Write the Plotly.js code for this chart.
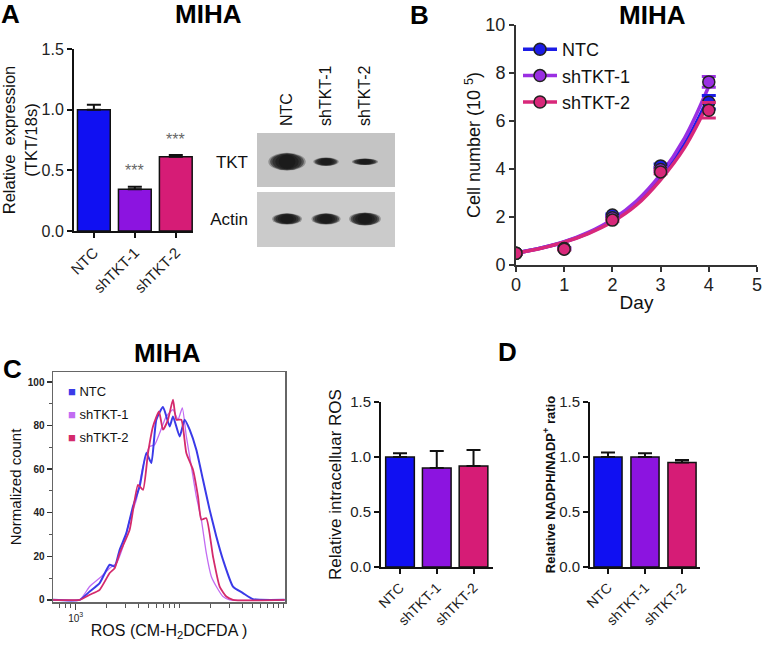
<!DOCTYPE html>
<html>
<head>
<meta charset="utf-8">
<script src="https://cdn.plot.ly/plotly-3.0.1.min.js"></script>
<style>html,body{margin:0;padding:0;background:#fff;}#chart{width:762px;height:645px;}</style>
</head>
<body>
<div id="chart"></div>
<script>
// ---------------- DATA ----------------
const categories = ['NTC', 'shTKT-1', 'shTKT-2'];

// Panel A: qPCR
const qpcrMean = [1.0, 0.345, 0.612];
const qpcrErr = [0.04, 0.02, 0.014];
const qpcrSig = ['', '***', '***'];

// Panel A: western blot (relative band size)
const blotRows = ['TKT', 'Actin'];
const tktBandWidth = [1.0, 0.68, 0.70];
const tktBandThickness = [1.0, 0.47, 0.36];
const actinBandWidth = [0.80, 0.78, 0.85];
const actinBandThickness = [0.70, 0.70, 0.82];

// Panel B: growth curve
const days = [0, 1, 2, 3, 4];
const growthNTC = [0.49, 0.69, 2.08, 4.13, 6.78];
const growthSh1 = [0.49, 0.68, 1.97, 3.98, 7.63];
const growthSh2 = [0.49, 0.66, 1.87, 3.88, 6.45];
const growthErrNTC = [0.02, 0.03, 0.05, 0.08, 0.28];
const growthErrSh1 = [0.02, 0.03, 0.05, 0.08, 0.22];
const growthErrSh2 = [0.02, 0.03, 0.05, 0.08, 0.32];
const fitDays = [0, 0.5, 1, 1.5, 2, 2.5, 3, 3.5, 4];
const fitNTC = [0.5, 0.70, 0.96, 1.33, 1.85, 2.60, 3.65, 5.05, 7.00];
const fitSh1 = [0.5, 0.70, 0.97, 1.36, 1.90, 2.67, 3.78, 5.30, 7.45];
const fitSh2 = [0.5, 0.69, 0.95, 1.31, 1.80, 2.50, 3.55, 4.90, 6.80];

// Panel C: flow histogram (ROS intensity vs normalized count)
const rosNTC_x = [605, 1093, 1363, 1701, 2123, 2371, 2649, 3070, 3559, 4125, 4781, 5341, 5964, 6915, 8014, 8628, 10000, 11170, 12478, 14462, 16762, 19430, 22519, 26102, 32570, 40640, 50710, 102240];
const rosNTC_y = [0, 0, 3.8, 7.7, 16.1, 15.3, 23, 30.6, 42.9, 52.1, 67.4, 62.8, 82.7, 88.5, 79.6, 84.2, 75, 82.7, 78.1, 68.9, 55.1, 41.3, 29.1, 18.4, 6.1, 3.1, 0.3, 0];
const rosSh1_x = [605, 1093, 1363, 1701, 2123, 2460, 2852, 3306, 3831, 4441, 5147, 5748, 6423, 7444, 8628, 9638, 10607, 11591, 12947, 14462, 16155, 18045, 20157, 22519, 26102, 30255, 102240];
const rosSh1_y = [0, 0, 6.1, 10, 14.5, 16.8, 24.5, 36.8, 45.9, 61.3, 70.4, 71.2, 76.6, 84.2, 87.3, 82.7, 88.1, 75, 61.3, 47.5, 36.8, 21.4, 10.7, 6.1, 1.5, 0, 0];
const rosSh2_x = [605, 1093, 1363, 1701, 2123, 2371, 2649, 3306, 3975, 4441, 4961, 5541, 6328, 6915, 7724, 8628, 9289, 10375, 11591, 13433, 15005, 16155, 18045, 20917, 24245, 28100, 32570, 102240];
const rosSh2_y = [0, 0, 2.3, 4.6, 12.3, 14.5, 21.4, 32.2, 52.8, 50.5, 67.4, 79.6, 86.5, 78.1, 82.7, 91.9, 82.7, 82.7, 67.4, 59.7, 47.5, 36.8, 37.5, 19.9, 6.1, 1.5, 0, 0];
const histTickVals = [1000];
const histTickText = ['10<sup>3</sup>'];
const histMinorVals = [700, 800, 900, 2000, 3000, 4000, 5000, 6000, 7000, 8000, 9000, 10000, 20000, 30000, 40000, 50000, 60000, 70000, 80000, 90000, 100000];

// Panel C: relative intracellular ROS
const rosMean = [1.0, 0.9, 0.918];
const rosErr = [0.035, 0.155, 0.146];

// Panel D: NADPH/NADP+ ratio
const nadpMean = [1.0, 1.0, 0.949];
const nadpErr = [0.04, 0.034, 0.024];

// ---------------- STYLE / LAYOUT ----------------
const W = 762, H = 645;
const px = v => v / W;
const py = v => 1 - v / H;
const FONT = 'Arial, "Liberation Sans", sans-serif';
const barColors = ['#1010f2', '#8c14e0', '#d61c76'];
const lineColors = ['#1c1ce6', '#9a2fe2', '#d8287a'];
const histColors = ['#3a3ae8', '#c26cf2', '#d42a6c'];

function gapped(arr) { const o = []; arr.forEach(v => o.push(v, null)); return o; }

const traces = [];

function barTrace(means, errs, xa, ya, width) {
  return {
    type: 'bar', x: [0, 1, 2], y: means, xaxis: xa, yaxis: ya, width: width,
    marker: { color: barColors, line: { color: '#111', width: 1.5 } },
    error_y: { type: 'data', array: errs, arrayminus: errs.map(() => 0), symmetric: false,
               color: '#111', thickness: 2, width: 7 },
    showlegend: false, hoverinfo: 'skip'
  };
}
traces.push(barTrace(qpcrMean, qpcrErr, 'x', 'y', 0.8));
traces.push(barTrace(rosMean, rosErr, 'x4', 'y4', 0.78));
traces.push(barTrace(nadpMean, nadpErr, 'x5', 'y5', 0.76));

// Panel B fit curves
[fitNTC, fitSh1, fitSh2].forEach((f, i) => {
  traces.push({ type: 'scatter', mode: 'lines', x: fitDays, y: f, xaxis: 'x2', yaxis: 'y2',
    line: { color: lineColors[i], width: 3.5, shape: 'spline' }, showlegend: false, hoverinfo: 'skip' });
});
// Panel B points
[[growthNTC, growthErrNTC], [growthSh1, growthErrSh1], [growthSh2, growthErrSh2]].forEach((g, i) => {
  traces.push({ type: 'scatter', mode: 'lines+markers', name: categories[i],
    x: gapped(days), y: gapped(g[0]), xaxis: 'x2', yaxis: 'y2', connectgaps: false,
    line: { color: lineColors[i], width: 3.5 },
    marker: { color: lineColors[i], size: 12, line: { color: '#222', width: 1.5 } },
    error_y: { type: 'data', array: gapped(g[1]), color: lineColors[i], thickness: 3, width: 7 },
    showlegend: true, hoverinfo: 'skip' });
});

// Panel C histogram
[[rosSh1_x, rosSh1_y, 1, 1.3], [rosNTC_x, rosNTC_y, 0, 2], [rosSh2_x, rosSh2_y, 2, 1.8]].forEach(h => {
  traces.push({ type: 'scatter', mode: 'lines', x: h[0], y: h[1], xaxis: 'x3', yaxis: 'y3',
    line: { color: histColors[h[2]], width: h[3], shape: 'spline', smoothing: 0.5 },
    showlegend: false, hoverinfo: 'skip' });
});

// Western blot: invisible anchor trace for axis 6
traces.push({ type: 'scatter', mode: 'markers', x: [0, 1, 2], y: [0.5, 0.5, 0.5], xaxis: 'x6', yaxis: 'y6',
  marker: { opacity: 0 }, showlegend: false, hoverinfo: 'skip' });

const shapes = [];
// blot membranes
shapes.push({ type: 'rect', xref: 'x6', yref: 'y6', x0: -0.77, x1: 2.77, y0: 0.526, y1: 1.0,
  fillcolor: '#c4c4c4', line: { width: 0 }, layer: 'below' });
shapes.push({ type: 'rect', xref: 'x6', yref: 'y6', x0: -0.77, x1: 2.77, y0: 0.0, y1: 0.482,
  fillcolor: '#cbcbcb', line: { width: 0 }, layer: 'below' });
function bands(widths, thick, yc, baseHalfH) {
  widths.forEach((w, i) => {
    const layers = [1.0, 0.9, 0.78, 0.62, 0.45];
    layers.forEach((s, k) => {
      const hw = 0.48 * w * s, hh = baseHalfH * thick[i] * (0.6 + 0.4 * s);
      shapes.push({ type: 'circle', xref: 'x6', yref: 'y6', x0: i - hw, x1: i + hw,
        y0: yc - hh, y1: yc + hh, fillcolor: '#141414', opacity: k === 0 ? 0.3 : 0.5,
        line: { width: 0 }, layer: 'above' });
    });
  });
}
bands(tktBandWidth, tktBandThickness, 0.748, 0.078);
bands(actinBandWidth, actinBandThickness, 0.246, 0.07);

// ---------------- AXES ----------------
function barX(domain, range, fs, anchor) {
  return { domain: domain, range: range, anchor: anchor, tickvals: [0, 1, 2], ticktext: categories, tickangle: -45,
    showline: true, linecolor: '#111', linewidth: 2, ticks: 'outside', ticklen: 5, tickwidth: 2, tickcolor: '#111',
    showgrid: false, zeroline: false, fixedrange: true, tickfont: { size: fs, color: '#222', family: FONT } };
}
function barY(domain, fs, title, tfs, bold, anchor, standoff) {
  return { domain: domain, range: [0, 1.5], anchor: anchor, tickvals: [0, 0.5, 1.0, 1.5], ticktext: ['0.0', '0.5', '1.0', '1.5'],
    showline: true, linecolor: '#111', linewidth: 2, ticks: 'outside', ticklen: 5, tickwidth: 2, tickcolor: '#111',
    showgrid: false, zeroline: false, fixedrange: true, tickfont: { size: fs, color: '#222', family: FONT },
    title: { text: title, font: { size: tfs, color: '#111', family: FONT, weight: bold ? 'bold' : 'normal' }, standoff: standoff } };
}

const layout = {
  width: W, height: H, margin: { l: 0, r: 0, t: 0, b: 0 }, paper_bgcolor: '#fff', plot_bgcolor: 'rgba(0,0,0,0)',
  font: { family: FONT, color: '#111' }, showlegend: true, bargap: 0.2,
  xaxis: barX([px(74), px(193)], [-0.485, 2.42], 15, 'y'),
  yaxis: barY([py(231), py(49)], 16, 'Relative  expression<br>(TKT/18s)', 16.5, false, 'x', 0),
  xaxis4: barX([px(381), px(493)], [-0.517, 2.53], 14, 'y4'),
  yaxis4: barY([py(567), py(402)], 15, 'Relative intracelluar ROS', 17, false, 'x4', 4),
  xaxis5: barX([px(590), px(700)], [-0.486, 2.486], 14, 'y5'),
  yaxis5: barY([py(567), py(402)], 15, 'Relative NADPH/NADP<sup>+</sup> ratio', 13, true, 'x5', 1),
  xaxis2: { domain: [px(516), px(757)], range: [0, 5], dtick: 1, tick0: 0, showline: true, linecolor: '#333', linewidth: 2,
    ticks: 'outside', ticklen: 5, tickwidth: 2, tickcolor: '#333', showgrid: false, zeroline: false, ticklabeloverflow: 'allow',
    ticklabelstandoff: -3,
    tickfont: { size: 18, color: '#222' }, title: { text: 'Day', font: { size: 19, color: '#111' }, standoff: 2 }, anchor: 'y2' },
  yaxis2: { domain: [py(265), py(25)], range: [0, 10], dtick: 2, tick0: 0, showline: true, linecolor: '#333', linewidth: 2,
    ticks: 'outside', ticklen: 5, tickwidth: 2, tickcolor: '#333', showgrid: false, zeroline: false, ticklabeloverflow: 'allow',
    tickfont: { size: 18, color: '#222' }, title: { text: 'Cell number (10 <sup>5</sup>)', font: { size: 18, color: '#111' }, standoff: 0 }, anchor: 'x2' },
  xaxis3: { type: 'log', domain: [px(53), px(285)], range: [2.782, 5.013], tickvals: histTickVals, ticktext: histTickText,
    showline: true, mirror: true, linecolor: '#666', linewidth: 1.5, ticks: 'outside', ticklen: 6, tickwidth: 1.2, tickcolor: '#444',
    minor: { tickvals: histMinorVals, ticks: 'outside', ticklen: 4, tickwidth: 1, tickcolor: '#555' },
    showgrid: false, zeroline: false, tickfont: { size: 10, color: '#222' },
    title: { text: 'ROS (CM-H<sub>2</sub>DCFDA )', font: { size: 16, color: '#111' }, standoff: 2 }, anchor: 'y3' },
  yaxis3: { domain: [py(602), py(372)], range: [-1, 104.6], tickvals: [0, 20, 40, 60, 80, 100],
    showline: true, mirror: true, linecolor: '#666', linewidth: 1.5, ticks: 'outside', ticklen: 5, tickwidth: 1.5, tickcolor: '#333',
    minor: { dtick: 10, tick0: 0, ticks: 'outside', ticklen: 3, tickwidth: 1, tickcolor: '#555' },
    showgrid: false, zeroline: false, tickfont: { size: 10, color: '#222', weight: 'bold' },
    title: { text: 'Normalized count', font: { size: 15, color: '#111' }, standoff: 2 }, anchor: 'x3' },
  xaxis6: { domain: [px(257), px(395)], range: [-0.77, 2.77], side: 'top', tickvals: [0, 1, 2], ticktext: categories,
    tickangle: -90, ticks: '', showline: false, showgrid: false, zeroline: false, ticklabelstandoff: 6,
    tickfont: { size: 16, color: '#111' }, anchor: 'y6' },
  yaxis6: { domain: [py(247), py(133)], range: [0, 1], tickvals: [0.748, 0.246], ticktext: blotRows,
    ticks: '', showline: false, showgrid: false, zeroline: false, ticklabelstandoff: 8,
    tickfont: { size: 17, color: '#111' }, anchor: 'x6' },
  legend: { x: px(518), y: py(31), xanchor: 'left', yanchor: 'top', font: { size: 18, color: '#111' },
    bgcolor: 'rgba(0,0,0,0)', borderwidth: 0, tracegroupgap: 0, itemwidth: 34 },
  shapes: shapes,
  annotations: []
};

const ann = layout.annotations;
function label(text, x, y, size, bold) {
  ann.push({ text: text, xref: 'paper', yref: 'paper', x: px(x), y: py(y), xanchor: 'center', yanchor: 'middle',
    showarrow: false, font: { size: size, color: '#000', family: FONT, weight: bold ? 'bold' : 'normal' } });
}
label('A', 10, 14, 26, true);
label('B', 419, 15, 26, true);
label('C', 12, 369, 26, true);
label('D', 507, 352, 26, true);
label('MIHA', 209, 14, 26, true);
label('MIHA', 652, 15, 26, true);
label('MIHA', 167, 353, 26, true);

// significance stars
qpcrSig.forEach((s, i) => {
  if (!s) return;
  ann.push({ text: s, xref: 'x', yref: 'y', x: i, y: qpcrMean[i] + qpcrErr[i], yshift: 16, yanchor: 'middle',
    showarrow: false, font: { size: 16, color: '#666' } });
});

// Panel C legend (text with colored squares)
categories.forEach((c, i) => {
  ann.push({ text: '<span style="color:' + histColors[i] + '">\u25A0</span> ' + c, xref: 'paper', yref: 'paper',
    x: px(66), y: py(391 + 23 * i), xanchor: 'left', yanchor: 'middle', showarrow: false,
    font: { size: 13, color: '#111' } });
});

Plotly.newPlot('chart', traces, layout, { staticPlot: true, displayModeBar: false });
</script>
</body>
</html>
